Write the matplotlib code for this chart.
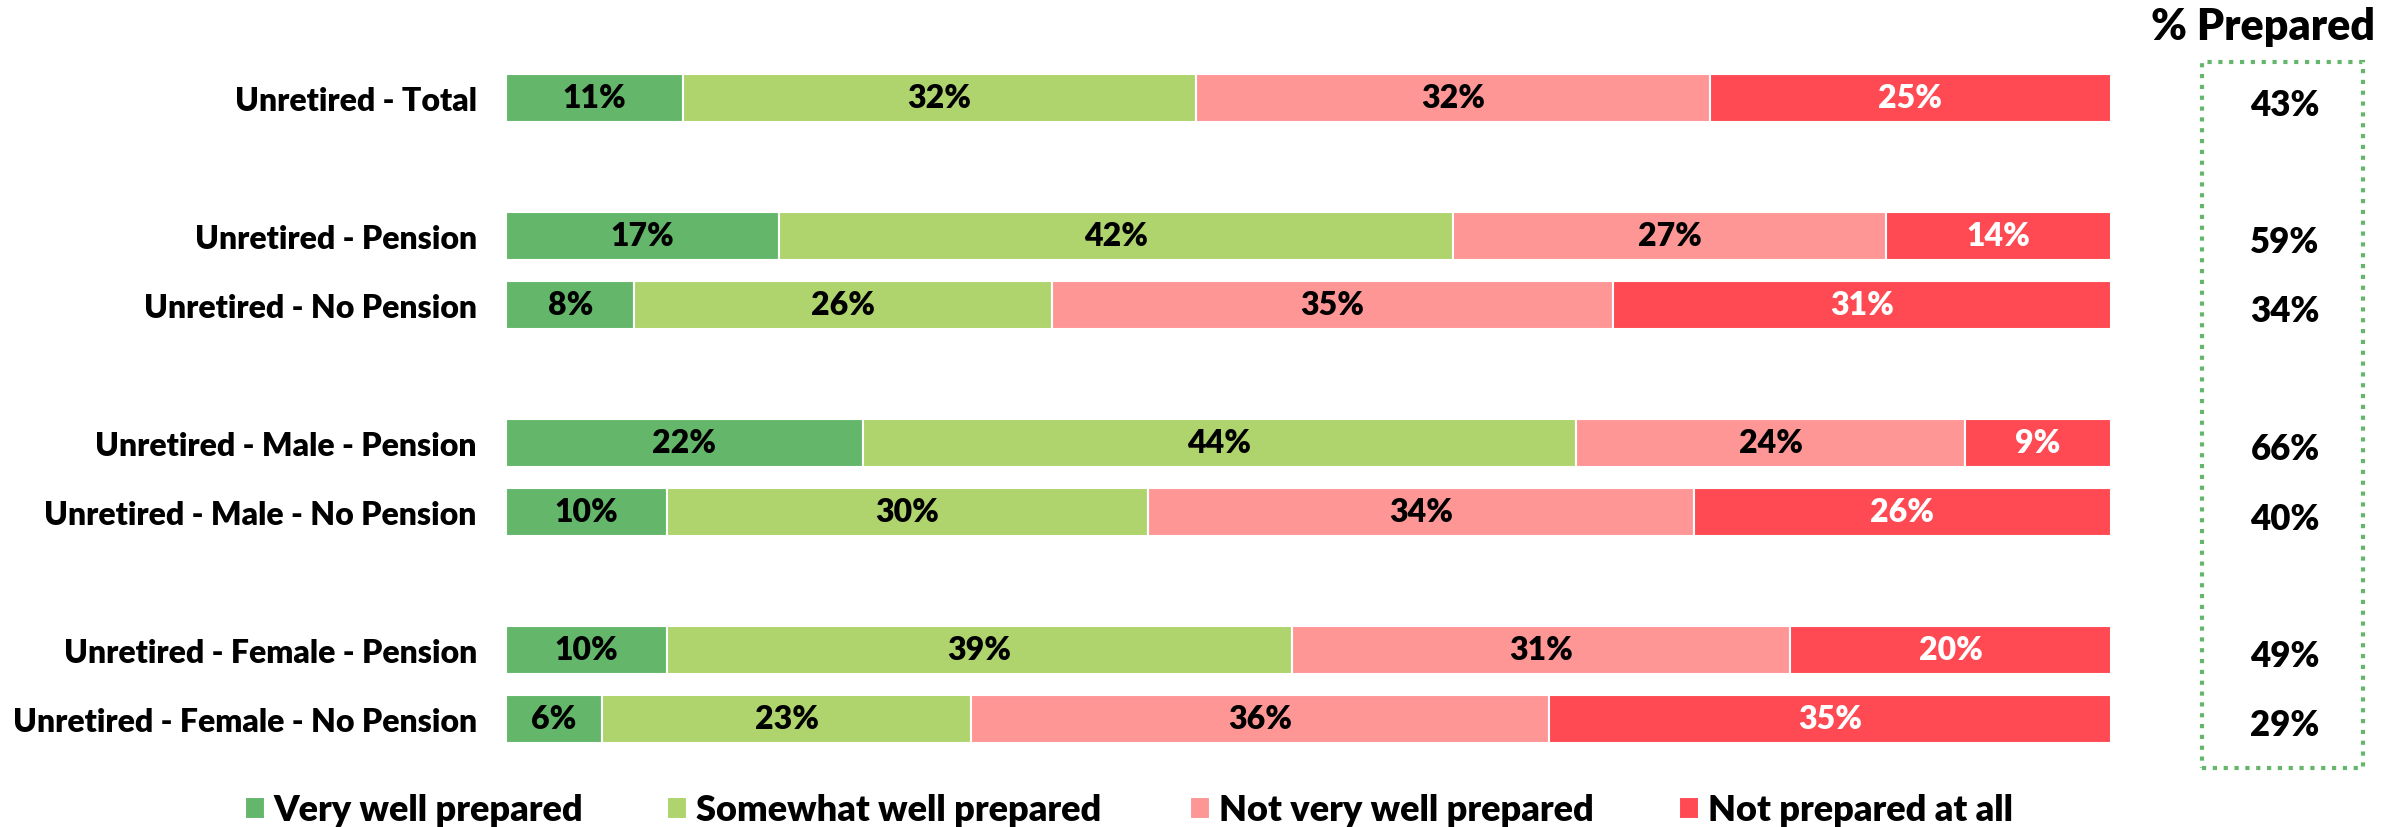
import numpy as np
import matplotlib.pyplot as plt
from matplotlib.patches import Rectangle

plt.rcParams['font.family'] = ['Lato', 'DejaVu Sans']
plt.rcParams['font.weight'] = 800

groups = ["Unretired - Total",
          "Unretired - Pension", "Unretired - No Pension",
          "Unretired - Male - Pension", "Unretired - Male - No Pension",
          "Unretired - Female - Pension", "Unretired - Female - No Pension"]
# row slots (empty slots give the gaps between groups)
slots = [0, 2, 3, 5, 6, 8, 9]

very_well = [11, 17, 8, 22, 10, 10, 6]
somewhat_well = [32, 42, 26, 44, 30, 39, 23]
not_very_well = [32, 27, 35, 24, 34, 31, 36]
not_at_all = [25, 14, 31, 9, 26, 20, 35]
pct_prepared = [43, 59, 34, 66, 40, 49, 29]

series_names = ["Very well prepared", "Somewhat well prepared",
                "Not very well prepared", "Not prepared at all"]
colors = ["#64B76A", "#AFD46D", "#FF9696", "#FF4A53"]
text_colors = ["black", "black", "black", "white"]
legend_x = [245, 667, 1190, 1679]

W, H = 2405, 828
fig = plt.figure(figsize=(W / 100, H / 100), dpi=100)
ax = fig.add_axes([506 / W, 1 - 754.5 / H, (2111 - 506) / W, 690 / H])

data = np.array([very_well, somewhat_well, not_very_well, not_at_all], dtype=float)
totals = data.sum(axis=0)
left = np.zeros(len(groups))
handles = []
for vals, name, col, tcol in zip(data, series_names, colors, text_colors):
    width = vals / totals * 100
    bars = ax.barh(slots, width, left=left, height=0.71, color=col,
                   edgecolor="white", linewidth=1.5, label=name)
    handles.append(bars)
    for y, l, w, v in zip(slots, left, width, vals):
        ax.text(l + w / 2, y, f"{int(v)}%", ha="center", va="center",
                fontsize=23, fontweight=800, color=tcol)
    left += width

ax.set_xlim(0, 100)
ax.set_ylim(9.5, -0.5)
ax.set_yticks(slots)
ax.set_yticklabels(groups, fontsize=23, fontweight=800)
ax.tick_params(axis="y", length=0, pad=21)
ax.set_xticks([])
for s in ax.spines.values():
    s.set_visible(False)

# % prepared column with dotted frame
fig.add_artist(Rectangle((2202 / W, 1 - 769 / H), (2363 - 2202) / W, (769 - 63) / H,
                         transform=fig.transFigure, fill=False,
                         edgecolor="#64B76A", linewidth=3,
                         linestyle=(0, (1, 1.6))))
fig.text(2263 / W, 1 - 27 / H, "% Prepared", ha="center", va="center",
         fontsize=31, fontweight=800)
for y, p in zip(slots, pct_prepared):
    yf = (ax.transData.transform((0, y))[1] - 6) / H
    fig.text(2285 / W, yf, f"{p}%", ha="center", va="center",
             fontsize=25, fontweight=800)

# one legend per entry so each sits where it should
for h, name, x in zip(handles, series_names, legend_x):
    fig.legend(handles=[h], labels=[name], loc="center left",
               bbox_to_anchor=(x / W, 1 - 811 / H), frameon=False,
               borderpad=0, borderaxespad=0, handlelength=0.55,
               handleheight=0.55, handletextpad=0.25,
               prop={"weight": 800, "size": 26})

fig.savefig("out.png", dpi=100)
